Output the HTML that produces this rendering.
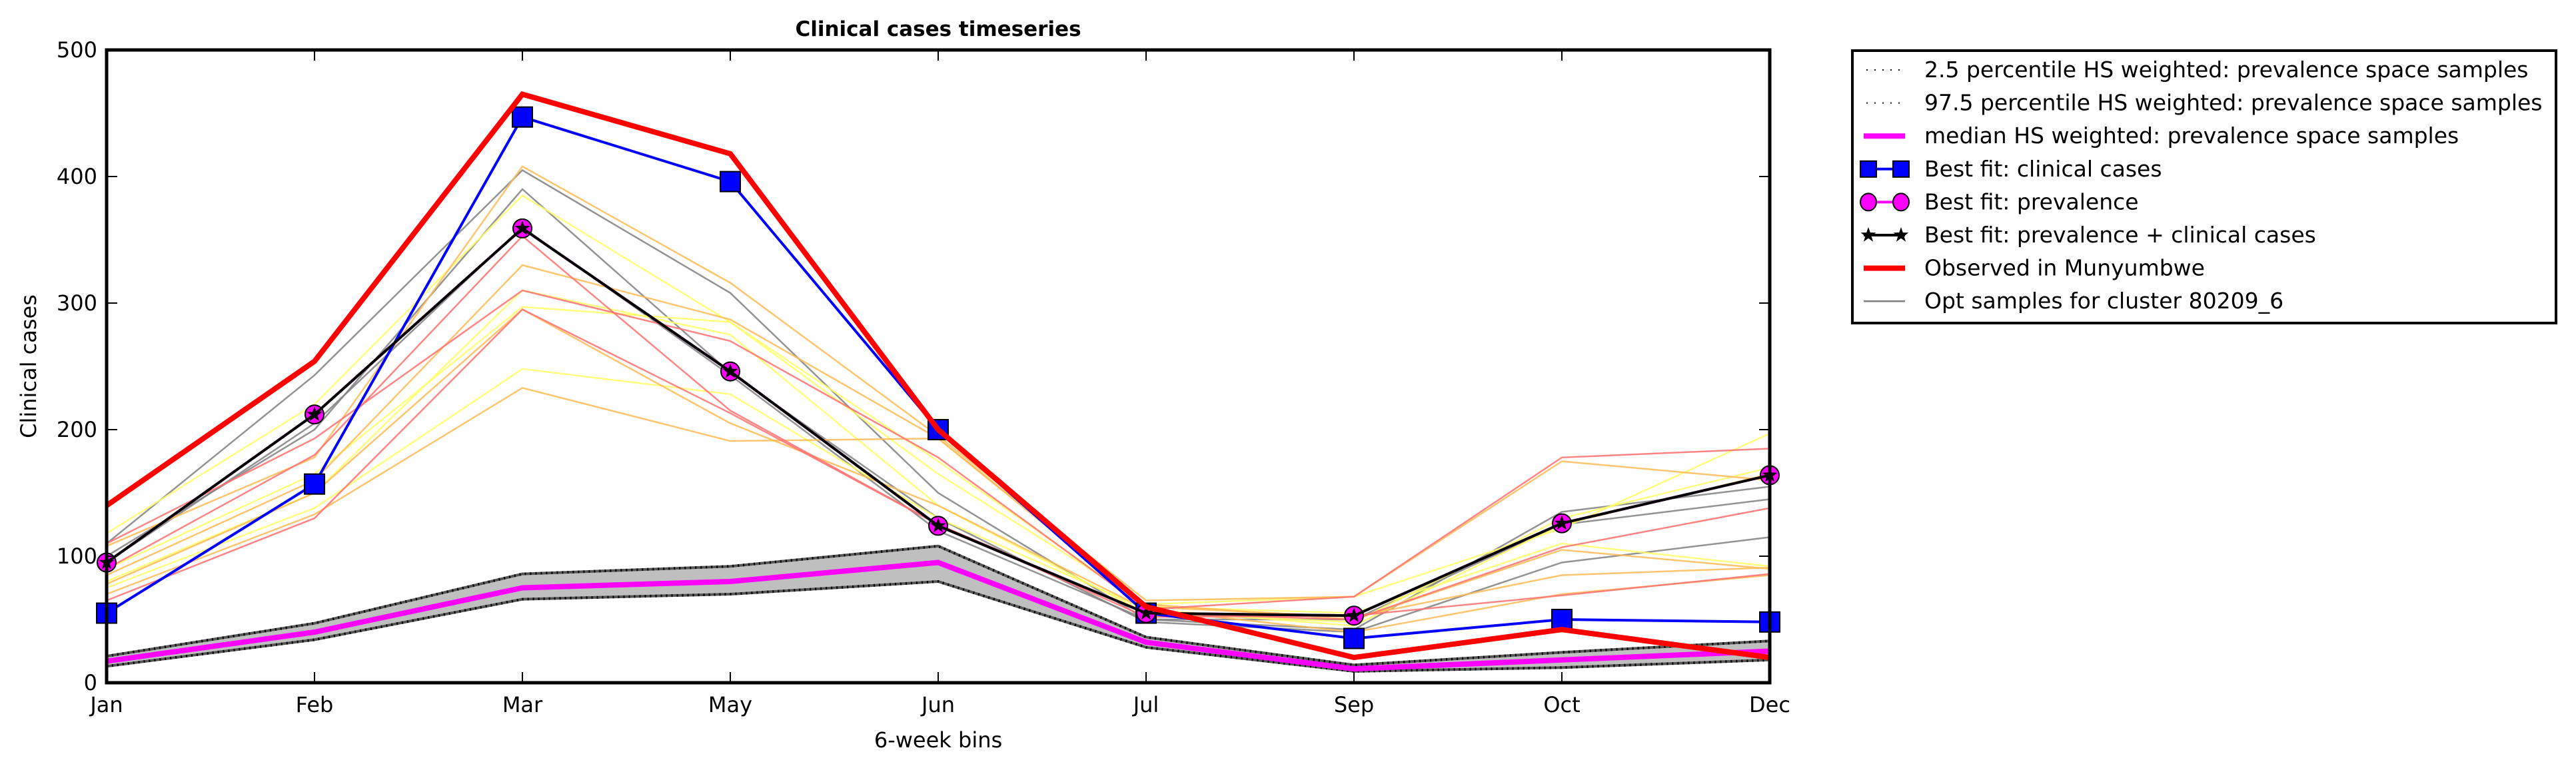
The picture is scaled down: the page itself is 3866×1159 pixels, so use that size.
<!DOCTYPE html>
<html><head><meta charset="utf-8">
<style>
html,body{margin:0;padding:0;background:#fff;}
svg{display:block;font-family:"DejaVu Sans","Liberation Sans",sans-serif;}
</style></head>
<body>
<svg id="chart" width="3866" height="1159" viewBox="0 0 3866 1159" xmlns="http://www.w3.org/2000/svg">
  <rect x="0" y="0" width="3866" height="1159" fill="#fff"/>
  <g id="plot"></g>
  <g id="axes"></g>
  <text x="1408" y="54" font-size="31" font-weight="bold" text-anchor="middle">Clinical cases timeseries</text>
  <text x="1408" y="1122" font-size="32" text-anchor="middle">6-week bins</text>
  <text x="0" y="0" font-size="32" text-anchor="middle" transform="translate(54,550) rotate(-90)">Clinical cases</text>
  <g id="legend"></g>
</svg>
<script>
const categories = ["Jan","Feb","Mar","May","Jun","Jul","Sep","Oct","Dec"];
const yTicks = [0,100,200,300,400,500];
const observed = [140,254,465,418,200,60,20,42,20];
const bestClinical = [55,157,447,396,200,55,35,50,48];
const bestPrevalence = [95,212,359,246,124,55,53,126,164];
const bestBoth = [95,212,359,246,124,55,53,126,164];
const median = [17,40,75,80,95,32,11,18,25];
const upper975 = [21,47,86,92,108,36,14,24,33];
const lower25 = [13,34,66,70,80,28,9,12,18];
const sampleColors = ["#808080","#808080","#808080","#ffff66","#ffff66","#ffff66","#ffff66","#ffbb55","#ffbb55","#ffbb55","#ffbb55","#ff7070","#ff7070","#ff7070"];
const samples = [
 [110,243,405,308,150,50,42,135,155],
 [100,200,390,245,130,48,40,95,115],
 [95,205,360,243,120,50,50,125,145],
 [118,220,385,285,165,62,68,122,197],
 [75,138,248,228,130,58,45,125,165],
 [90,165,297,285,175,60,55,110,92],
 [80,150,310,275,140,55,48,130,170],
 [108,178,408,316,195,65,68,175,160],
 [85,160,330,287,193,62,50,105,90],
 [70,133,233,191,193,60,52,85,91],
 [78,150,295,205,140,58,40,70,85],
 [110,193,310,270,178,58,68,178,185],
 [65,130,295,213,125,55,50,107,138],
 [90,180,353,215,125,52,53,69,86]
];
const legendLabels = ["2.5 percentile HS weighted: prevalence space samples","97.5 percentile HS weighted: prevalence space samples","median HS weighted: prevalence space samples","Best fit: clinical cases","Best fit: prevalence","Best fit: prevalence + clinical cases","Observed in Munyumbwe","Opt samples for cluster 80209_6"];

const NS="http://www.w3.org/2000/svg";
const X0=160,X1=2656,Y0=1025,Y1=75;
function xs(i){return X0+(X1-X0)*i/(categories.length-1);}
function ys(v){return Y0-(Y0-Y1)*v/500;}
function mk(tag,attrs,parent){const e=document.createElementNS(NS,tag);for(const k in attrs)e.setAttribute(k,attrs[k]);parent.appendChild(e);return e;}
function pts(arr){return arr.map((v,i)=>xs(i)+","+ys(v)).join(" ");}
const plot=document.getElementById("plot");
const axes=document.getElementById("axes");

const band=mk("polygon",{points:pts(upper975)+" "+lower25.map((v,i)=>[i,v]).reverse().map(p=>xs(p[0])+","+ys(p[1])).join(" "),fill:"#bfbfbf"},plot);


samples.forEach((s,k)=>{
  const l=mk("polyline",{points:pts(s),fill:"none",stroke:sampleColors[k],"stroke-width":2.5,"stroke-opacity":0.85},plot);
  
  
});
[lower25,upper975].forEach((arr,k)=>{
  const a=mk("polyline",{points:pts(arr),fill:"none",stroke:"#555","stroke-width":4},plot);
  
  
  const b=mk("polyline",{points:pts(arr),fill:"none",stroke:"#000","stroke-width":4,"stroke-dasharray":"2 6"},plot);
  
  
});
const med=mk("polyline",{points:pts(median),fill:"none",stroke:"#ff00ff","stroke-width":8},plot);


const bl=mk("polyline",{points:pts(bestClinical),fill:"none",stroke:"#0000ff","stroke-width":4},plot);


bestClinical.forEach((v,i)=>{
  const r=mk("rect",{x:xs(i)-15,y:ys(v)-15,width:30,height:30,fill:"#0000ff",stroke:"#000","stroke-width":2},plot);
  
  
});
const pl=mk("polyline",{points:pts(bestPrevalence),fill:"none",stroke:"#ff00ff","stroke-width":4},plot);


bestPrevalence.forEach((v,i)=>{
  const c=mk("circle",{cx:xs(i),cy:ys(v),r:14,fill:"#ff00ff",stroke:"#000","stroke-width":2},plot);
  
  
});
const bb=mk("polyline",{points:pts(bestBoth),fill:"none",stroke:"#000","stroke-width":4},plot);


function star(cx,cy,R){let p=[];for(let k=0;k<10;k++){const r=k%2?R*0.4:R;const a=-Math.PI/2+k*Math.PI/5;p.push((cx+r*Math.cos(a))+","+(cy+r*Math.sin(a)));}return p.join(" ");}
bestBoth.forEach((v,i)=>{
  const s=mk("polygon",{points:star(xs(i),ys(v),12),fill:"#000"},plot);
  
  
});
const ob=mk("polyline",{points:pts(observed),fill:"none",stroke:"#ff0000","stroke-width":8,"stroke-linejoin":"miter"},plot);



const fr=mk("rect",{x:X0,y:Y1,width:X1-X0,height:Y0-Y1,fill:"none",stroke:"#000","stroke-width":5},axes);


categories.forEach((c,i)=>{
  const t1=mk("line",{x1:xs(i),x2:xs(i),y1:Y0,y2:Y0-16,stroke:"#000","stroke-width":2},axes);
  
  
  const t2=mk("line",{x1:xs(i),x2:xs(i),y1:Y1,y2:Y1+16,stroke:"#000","stroke-width":2},axes);
  
  
  const lb=mk("text",{x:xs(i),y:Y0+44,"font-size":32,"text-anchor":"middle"},axes);
  lb.textContent=c;
  
  
});
yTicks.forEach(v=>{
  const t1=mk("line",{x1:X0,x2:X0+16,y1:ys(v),y2:ys(v),stroke:"#000","stroke-width":2},axes);
  
  
  const t2=mk("line",{x1:X1,x2:X1-16,y1:ys(v),y2:ys(v),stroke:"#000","stroke-width":2},axes);
  
  
  const lb=mk("text",{x:X0-14,y:ys(v)+11,"font-size":32,"text-anchor":"end"},axes);
  lb.textContent=v;
  
  
});

const lg=document.getElementById("legend");
const lbox=mk("rect",{x:2780,y:76,width:1056,height:409,fill:"#fff",stroke:"#000","stroke-width":4},lg);


legendLabels.forEach((t,k)=>{
  const y=105+k*49.6, hx0=2797, hx1=2859;
  const g=mk("g",{},lg);
  
  
  if(k<2){mk("line",{x1:hx0+4,x2:hx1,y1:y,y2:y,stroke:"#000","stroke-width":2,"stroke-dasharray":"2 10"},g);}
  else if(k===2){mk("line",{x1:hx0,x2:hx1,y1:y,y2:y,stroke:"#ff00ff","stroke-width":8},g);}
  else if(k===3){mk("line",{x1:hx0,x2:hx1,y1:y,y2:y,stroke:"#0000ff","stroke-width":4},g);mk("rect",{x:hx0-5,y:y-12,width:24,height:24,fill:"#0000ff",stroke:"#000","stroke-width":2},g);mk("rect",{x:hx1-18,y:y-12,width:24,height:24,fill:"#0000ff",stroke:"#000","stroke-width":2},g);}
  else if(k===4){mk("line",{x1:hx0,x2:hx1,y1:y,y2:y,stroke:"#ff00ff","stroke-width":4},g);mk("ellipse",{cx:hx0+7,cy:y,rx:12,ry:13,fill:"#ff00ff",stroke:"#000","stroke-width":2},g);mk("ellipse",{cx:hx1-6,cy:y,rx:12,ry:13,fill:"#ff00ff",stroke:"#000","stroke-width":2},g);}
  else if(k===5){mk("line",{x1:hx0,x2:hx1,y1:y,y2:y,stroke:"#000","stroke-width":4},g);mk("polygon",{points:star(hx0+7,y,12),fill:"#000"},g);mk("polygon",{points:star(hx1-6,y,12),fill:"#000"},g);}
  else if(k===6){mk("line",{x1:hx0,x2:hx1,y1:y,y2:y,stroke:"#ff0000","stroke-width":8},g);}
  else {mk("line",{x1:hx0,x2:hx1,y1:y,y2:y,stroke:"#808080","stroke-width":2.5},g);}
  const tx=mk("text",{x:2888,y:y+11,"font-size":33},g);
  tx.textContent=t;
  
  
});
</script>
</body></html>
